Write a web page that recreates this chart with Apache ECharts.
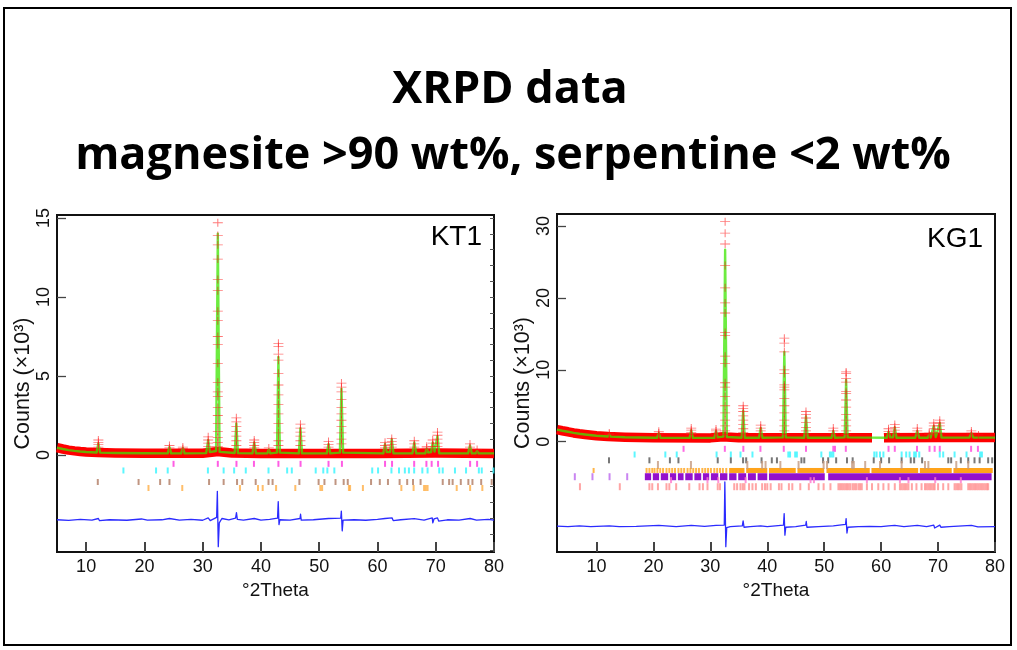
<!DOCTYPE html>
<html><head><meta charset="utf-8">
<script src="https://cdn.jsdelivr.net/npm/echarts@6/dist/echarts.min.js"></script>
<style>html,body{margin:0;padding:0;background:#fff}#c{width:1017px;height:650px}</style>
</head><body><div id="c"></div>
<script>
// ---------- text ----------
const titleLines = ['XRPD data', 'magnesite >90 wt%, serpentine <2 wt%'];
const sampleNames = ['KT1', 'KG1'];
const xAxisName = '°2Theta';
const yAxisName = 'Counts (×10³)';
// ---------- tick labels ----------
const xTickLabels = [10, 20, 30, 40, 50, 60, 70, 80];
const kt1YTickLabels = [0, 5, 10, 15];
const kg1YTickLabels = [0, 10, 20, 30];
const kt1MinorTicks = [-6,-5,-4,-3,-2,-1,0,1,2,3,4,5,6,7,8,9,10,11,12,13,14,15];

// ---------- KT1 ----------
const kt1Calc = [[5,0.46],[6,0.38],[7,0.31],[8,0.26],[9,0.22],[10,0.19],[11.8,0.16],[12.1,0.75],[12.4,0.15],[15,0.13],[20,0.11],[24.0,0.1],[24.3,0.5],[24.6,0.1],[26.3,0.1],[26.6,0.45],[26.9,0.1],[30.6,0.12],[30.95,0.95],[31.25,0.18],[32.3,0.25],[32.6,14.0],[32.9,0.2],[35.5,0.13],[35.78,2.0],[36.05,0.12],[38.55,0.1],[38.85,0.8],[39.15,0.1],[41.1,0.1],[41.35,0.35],[41.6,0.1],[42.75,0.15],[43.0,6.2],[43.25,0.15],[46.5,0.1],[46.78,1.7],[47.05,0.1],[51.3,0.1],[51.6,0.7],[51.9,0.1],[53.55,0.15],[53.82,4.2],[54.1,0.15],[61.0,0.1],[61.3,0.7],[61.6,0.18],[62.15,0.18],[62.45,1.0],[62.75,0.1],[66.0,0.1],[66.32,0.8],[66.65,0.1],[68.2,0.1],[68.45,0.4],[68.7,0.15],[69.2,0.18],[69.48,0.8],[69.8,0.22],[70.0,0.25],[70.3,1.2],[70.6,0.1],[75.55,0.1],[75.88,0.6],[76.2,0.1],[76.85,0.1],[77.1,0.25],[77.35,0.1],[80,0.1]];
const kt1ObsBand = [[5,0.46],[6,0.38],[7,0.31],[8,0.26],[9,0.22],[10,0.19],[12,0.16],[15,0.13],[20,0.11],[30,0.11],[32.3,0.2],[32.9,0.2],[35,0.12],[40,0.1],[50,0.1],[60,0.1],[70,0.12],[80,0.1]];
const kt1ObsPeaks = [
 [12.1,[0.95,0.8,0.65,0.5]],
 [24.3,[0.6,0.45]],
 [26.6,[0.5,0.4]],
 [30.95,[1.15,0.95,0.75,0.55]],
 [32.6,[14.7,13.9,13.3,12.4,11.1,10.4,9.1,8.5,7.5,7.0,5.8,4.6,4.0,3.7,3.0,2.5,2.0,1.5,1.1,0.8,0.55]],
 [35.78,[2.35,2.1,1.8,1.5,1.2,0.9,0.6]],
 [38.85,[0.95,0.8,0.6,0.45]],
 [41.35,[0.45]],
 [43.0,[7.07,6.86,6.39,6.0,5.17,4.43,3.8,3.2,2.6,2.0,1.4,0.9,0.6]],
 [46.78,[1.95,1.7,1.45,1.2,0.9,0.6]],
 [51.6,[0.85,0.65,0.5]],
 [53.82,[4.55,4.3,4.0,3.5,3.0,2.6,2.2,1.8,1.4,1.0,0.7]],
 [61.3,[0.8,0.6,0.45]],
 [62.45,[1.05,0.85,0.65,0.5]],
 [66.32,[0.9,0.7,0.5]],
 [68.45,[0.55,0.45]],
 [69.48,[0.95,0.75,0.55]],
 [70.3,[1.45,1.25,1.0,0.75,0.55]],
 [75.88,[0.7,0.5]],
 [77.1,[0.35]]
];
const kt1Diff = [[5,-4.1],[7,-4.14],[9,-4.08],[11,-4.12],[12.1,-4.02],[12.3,-4.16],[14,-4.1],[17,-4.13],[19.5,-4.05],[20.5,-4.12],[23,-4.1],[24.3,-4.02],[26,-4.12],[28,-4.08],[30,-4.13],[30.95,-3.98],[31.3,-4.15],[32.4,-3.95],[32.52,-2.3],[32.68,-5.8],[32.85,-4.3],[33.3,-4.02],[34.5,-4.1],[35.65,-4.0],[35.8,-3.65],[35.95,-4.08],[37,-4.12],[38.85,-4.02],[40,-4.12],[41.5,-4.08],[42.85,-4.0],[42.97,-2.95],[43.1,-4.4],[43.25,-4.1],[45,-4.12],[46.7,-4.02],[46.8,-3.75],[46.92,-4.12],[49,-4.1],[51.6,-4.02],[53.7,-4.0],[53.8,-3.55],[53.95,-4.8],[54.1,-4.12],[56,-4.1],[58,-4.13],[60,-4.08],[61.3,-4.02],[62.5,-3.98],[62.7,-4.15],[64,-4.1],[66.3,-4.03],[68,-4.12],[69.4,-3.98],[69.5,-4.3],[69.7,-4.05],[70.3,-3.98],[70.5,-4.18],[72,-4.1],[74,-4.12],[75.9,-4.02],[77,-4.12],[79,-4.08],[80,-4.12]];
// reflection markers (2θ positions) per phase
const kt1Magnesite = [25.0,32.6,35.8,38.8,43.0,46.8,51.6,53.9,61.3,62.5,66.3,68.4,69.3,70.4,75.9,77.1];
const kt1Cyan = [16.4,22.0,24.0,30.9,33.6,35.4,37.4,41.3,44.5,45.3,49.4,50.7,51.4,52.6,59.1,60.1,62.4,63.7,64.7,65.4,66.3,67.7,68.6,70.6,71.2,73.3,75.2,77.4,77.9,79.9];
const kt1Brown = [12.0,19.0,22.7,24.3,31.1,33.6,35.9,36.8,39.1,41.3,42.0,46.6,49.9,50.9,52.8,54.2,54.9,58.9,60.4,61.8,63.8,65.1,66.1,67.4,71.2,72.3,72.9,74.3,75.6,76.3,77.8,79.6];
const kt1Orange = [20.7,26.5,36.4,39.5,40.3,42.6,45.9,50.2,50.5,55.1,55.3,57.5,64.1,66.2,68.0,68.3,68.6,73.6,75.9,78.0];

// ---------- KG1 ----------
const kg1Calc = [[3.07,1.67],[4,1.52],[5,1.38],[6,1.22],[7,1.1],[8,1.0],[10,0.83],[12.0,0.72],[12.25,1.0],[12.5,0.71],[15,0.63],[20,0.56],[20.65,0.55],[20.95,1.2],[21.25,0.55],[26.35,0.53],[26.65,1.6],[26.95,0.53],[30.7,0.53],[31.0,1.5],[31.3,0.6],[32.3,0.7],[32.6,26.7],[32.9,0.65],[35.5,0.55],[35.78,4.3],[36.05,0.55],[38.55,0.55],[38.85,1.9],[39.15,0.55],[42.75,0.6],[43.0,12.5],[43.25,0.6],[46.5,0.55],[46.8,3.5],[47.1,0.55],[51.3,0.55],[51.6,1.5],[51.9,0.55],[53.6,0.6],[53.85,8.6],[54.1,0.6],[61.0,0.55],[61.3,1.4],[61.6,0.6],[62.1,0.6],[62.4,2.0],[62.7,0.55],[66.0,0.55],[66.35,1.5],[66.7,0.55],[68.2,0.55],[68.45,1.0],[68.7,0.6],[68.95,0.6],[69.25,2.2],[69.6,0.65],[69.95,0.7],[70.3,2.6],[70.6,0.57],[75.5,0.57],[75.85,1.2],[76.2,0.57],[76.85,0.57],[77.1,0.8],[77.35,0.57],[80,0.57]];
const kg1ObsBandA = [[3.07,1.67],[4,1.52],[5,1.38],[6,1.22],[7,1.1],[8,1.0],[10,0.83],[12,0.72],[15,0.63],[20,0.56],[30,0.53],[32.3,0.7],[32.9,0.65],[35,0.55],[40,0.55],[50,0.56],[58.4,0.56]];
const kg1ObsBandB = [[60.5,0.56],[70,0.58],[80,0.57]];
const kg1ObsPeaks = [
 [12.25,[1.2,1.0]],
 [20.95,[1.45,1.2,0.95]],
 [26.65,[1.9,1.6,1.3,1.0]],
 [31.0,[1.75,1.5,1.2,0.95]],
 [32.6,[30.6,29.0,27.5,24.5,21.4,19.3,17.9,15.2,14.8,11.9,10.9,8.2,7.6,6.3,5.0,4.0,3.0,2.2,1.5,1.0]],
 [35.78,[5.0,4.6,4.2,3.6,3.0,2.4,1.8,1.3,0.95]],
 [38.85,[2.3,1.9,1.5,1.1]],
 [43.0,[14.4,13.7,12.5,10.0,9.5,7.9,7.6,7.2,6.0,5.0,4.0,3.0,2.2,1.5,1.0]],
 [46.8,[4.2,3.8,3.3,2.7,2.0,1.5,1.1]],
 [51.6,[1.9,1.5,1.15]],
 [53.85,[9.7,9.5,8.8,8.3,7.0,6.7,5.8,4.8,3.8,3.0,2.2,1.5,1.0]],
 [61.3,[1.8,1.45,1.1]],
 [62.4,[2.4,2.0,1.6,1.2]],
 [66.35,[1.9,1.5,1.1]],
 [68.45,[1.2,1.0]],
 [69.25,[2.6,2.2,1.8,1.3]],
 [70.3,[3.0,2.6,2.2,1.7,1.2]],
 [75.85,[1.5,1.2,0.95]],
 [77.1,[0.95]]
];
const kg1Diff = [[3.07,-11.75],[5,-11.8],[7,-11.72],[9,-11.82],[12.25,-11.7],[14,-11.8],[17,-11.78],[20.95,-11.65],[21.2,-11.85],[24,-11.8],[26.65,-11.65],[27,-11.85],[29,-11.78],[31,-11.65],[31.3,-11.85],[32.45,-11.6],[32.55,-5.6],[32.72,-14.6],[32.88,-11.95],[33.5,-11.8],[35.62,-11.7],[35.76,-11.0],[35.92,-11.9],[37,-11.8],[38.85,-11.7],[40,-11.82],[42.85,-11.6],[42.97,-10.0],[43.1,-13.0],[43.25,-11.9],[45,-11.8],[46.75,-11.6],[46.85,-11.1],[46.97,-11.9],[49,-11.8],[51.6,-11.7],[53.75,-11.5],[53.85,-10.7],[54.0,-12.7],[54.15,-11.9],[56,-11.8],[58,-11.78],[60,-11.82],[61.3,-11.7],[62.4,-11.65],[62.6,-11.9],[64,-11.8],[66.35,-11.65],[68,-11.82],[69.25,-11.6],[69.4,-12.0],[70.3,-11.6],[70.5,-11.9],[72,-11.8],[75.85,-11.65],[77,-11.85],[80,-11.8]];
const kg1Magnesite = [25.3,32.55,35.8,38.8,42.9,46.8,51.6,51.9,53.8,61.3,62.4,66.3,68.5,69.4,70.3,75.8,77.0];
const kg1Cyan = [16.7,22.1,24.1,31.1,33.6,35.3,37.4,43.7,44.0,44.9,45.2,49.5,51.0,51.3,51.6,58.8,59.2,59.8,60.4,63.6,64.4,65.0,65.8,66.1,66.7,70.3,70.9,72.9,75.0,77.4,77.7];
const kg1Grey = [12.2,19.3,22.9,24.4,31.3,33.6,35.75,36.3,39.0,40.8,41.7,46.0,46.5,49.8,50.7,52.1,54.0,55.0,58.7,60.0,61.4,63.6,65.2,65.8,67.2,71.8,72.3,74.0,75.3,76.4,77.3,78.8,79.5];
const kg1Tan = [20.8,26.6,36.5,39.1,39.7,42.3,45.5,49.9,50.5,54.9,55.2,57.2,59.8,63.6,67.7,68.3,73.2,75.3];
const kg1OrangeTicks = [9.5,18.8,19.3,19.8,20.2,20.7,21.2,21.7,22.3,22.8,23.3,23.8,24.4,24.9,25.4,26.0,26.5,27.0,27.5,28.0,28.6,29.1,29.6,30.1,30.7,31.2,31.7,32.2,32.8];
const kg1OrangeRuns = [[33.3,36.0],[36.3,40.0],[40.3,45.0],[45.3,50.0],[50.4,58.0],[58.3,66.5],[66.8,72.4],[72.7,79.6]];
const kg1PurpleTicks = [6.2,9.3,12.3,15.4];
const kg1PurpleRuns = [[18.5,19.6],[19.9,21.0],[21.3,22.6],[22.9,24.0],[24.3,25.3],[25.6,26.9],[27.2,28.4],[28.7,29.8],[30.1,31.4],[31.7,33.0],[33.3,34.6],[34.9,36.3],[36.6,38.0],[38.3,40.0],[40.3,50.1],[50.7,79.4]];
const kg1Salmon = [7.1,14.1,19.3,19.8,20.8,22.3,22.8,24.0,26.3,28.1,28.7,29.5,31.3,31.7,34.2,34.7,35.3,35.7,36.0,36.8,37.4,38.0,39.1,39.6,40.0,40.6,42.05,42.5,43.8,44.4,45.8,47.3,49.0,49.9,51.1,52.5,52.8,53.1,53.4,53.7,54.0,54.3,54.6,55.0,55.3,55.6,56.0,56.3,56.6,57.5,58.4,59.5,60.4,61.3,62.4,63.3,63.6,63.9,64.2,64.5,64.8,65.4,66.2,67.1,67.7,68.0,68.3,68.6,68.9,69.2,69.4,70.0,70.9,71.8,72.9,73.2,73.5,73.8,74.1,75.3,75.6,75.9,76.2,76.5,76.8,77.1,77.4,77.7,78.0,78.3,78.6,78.8];
const kg1Pink = [23.1,29.5,31.4,36.2,47.6,48.2,57.5,63.3,64.8,69.5,74.0];

// ---------- drawing ----------
const crossPath = 'path://M0,4.5H10V5.5H0Z M4.5,0H5.5V10H4.5Z';
const FONT = '"Liberation Sans", Arial, sans-serif';

function peakPoints(list){ return list.flatMap(([x, hs]) => hs.map(h => [x, h])); }
function lineS(data, xi, yi, color, width, z){
  return {type:'line', xAxisIndex:xi, yAxisIndex:yi, data, showSymbol:false, symbol:'none',
    lineStyle:{color, width, cap:'butt', join:'round'}, z, silent:true, animation:false, clip:true};
}
function crossS(data, xi, yi){
  return {type:'scatter', xAxisIndex:xi, yAxisIndex:yi, data, symbol:crossPath, symbolSize:[10,8],
    itemStyle:{color:'rgba(255,20,20,0.72)'}, z:6, silent:true, animation:false};
}
function tickS(pos, level, xi, yi, color, h, w){
  return {type:'scatter', xAxisIndex:xi, yAxisIndex:yi, data:pos.map(p => [p, level]), symbol:'rect',
    symbolSize:[w || 2, h], itemStyle:{color}, z:3, silent:true, animation:false};
}
function runS(runs, level, xi, yi, color, h){
  return {type:'custom', xAxisIndex:xi, yAxisIndex:yi, data:runs.map(r => [r[0], r[1], level]),
    encode:{x:[0,1], y:2}, silent:true, animation:false, z:3, clip:true,
    renderItem:(params, api) => {
      const a = api.coord([api.value(0), api.value(2)]);
      const b = api.coord([api.value(1), api.value(2)]);
      return {type:'rect', shape:{x:a[0], y:a[1]-h/2, width:b[0]-a[0], height:h}, style:{fill:color}};
    }};
}

function xAxisCfg(gi, min){
  return {gridIndex:gi, type:'value', min, max:80, position:'bottom',
    axisLine:{show:false, onZero:false},
    axisTick:{inside:true, length:10, customValues:xTickLabels, lineStyle:{color:'#444', width:2}},
    axisLabel:{customValues:xTickLabels, fontSize:18, color:'#111', margin:6, fontFamily:FONT},
    splitLine:{show:false},
    name:xAxisName, nameLocation:'middle', nameGap:28,
    nameTextStyle:{fontSize:19, color:'#111', fontFamily:FONT, verticalAlign:'top'}};
}
function yAxisCfg(gi, min, max, ticks, nameGap){
  return {gridIndex:gi, type:'value', min, max, position:'left',
    axisLine:{show:false, onZero:false},
    axisTick:{inside:true, length:9, customValues:ticks, lineStyle:{color:'#444', width:1.3}},
    axisLabel:{customValues:ticks, rotate:90, fontSize:18, color:'#111', margin:4, fontFamily:FONT},
    splitLine:{show:false},
    name:yAxisName, nameLocation:'middle', nameRotate:90, nameGap,
    nameTextStyle:{fontSize:21.5, color:'#111', fontFamily:FONT}};
}

const kt1Lv = {mag:-0.56, cyan:-0.98, brown:-1.71, orange:-2.09};
const kg1Lv = {mag:-0.99, cyan:-1.78, grey:-2.59, tan:-3.24, orange:-4.0, purple:-4.87, pink:-5.35, salmon:-6.26};

const option = {
  animation:false,
  backgroundColor:'#fff',
  grid:[
    {left:57, top:215, width:437, height:337, show:true, borderColor:'#111', borderWidth:2, backgroundColor:'transparent'},
    {left:557, top:214, width:438, height:338, show:true, borderColor:'#111', borderWidth:2, backgroundColor:'transparent'}
  ],
  xAxis:[ xAxisCfg(0, 5), xAxisCfg(1, 3.07) ],
  yAxis:[
    yAxisCfg(0, -6.14, 15.19, kt1YTickLabels, 20),
    {gridIndex:0, type:'value', min:-6.14, max:15.19, position:'right', axisLine:{show:false, onZero:false},
     axisTick:{inside:true, length:4, customValues:kt1MinorTicks, lineStyle:{color:'#555', width:1}},
     axisLabel:{show:false}, splitLine:{show:false}},
    yAxisCfg(1, -15.34, 31.67, kg1YTickLabels, 23)
  ],
  graphic:[
    {type:'rect', shape:{x:4, y:8, width:1007, height:637}, style:{fill:'none', stroke:'#000', lineWidth:2}, z:100, silent:true},
    {type:'text', x:510, y:90, style:{text:titleLines[0], font:'bold 45px "Open Sans"', fill:'#000', align:'center', verticalAlign:'middle', textAlign:'center', textVerticalAlign:'middle'}},
    {type:'text', x:513, y:156, style:{text:titleLines[1], font:'bold 45px "Open Sans"', fill:'#000', align:'center', verticalAlign:'middle', textAlign:'center', textVerticalAlign:'middle'}},
    {type:'text', x:482, y:237, style:{text:sampleNames[0], font:'28px "Liberation Sans"', fill:'#000', align:'right', verticalAlign:'middle', textAlign:'right', textVerticalAlign:'middle'}},
    {type:'text', x:983, y:239, style:{text:sampleNames[1], font:'28px "Liberation Sans"', fill:'#000', align:'right', verticalAlign:'middle', textAlign:'right', textVerticalAlign:'middle'}}
  ],
  series:[
    // KT1
    lineS(kt1ObsBand, 0, 0, '#ff0000', 9.5, 2),
    lineS(kt1Calc, 0, 0, 'rgba(60,230,0,0.75)', 2.4, 5),
    crossS(peakPoints(kt1ObsPeaks), 0, 0),
    tickS(kt1Magnesite, kt1Lv.mag, 0, 0, '#ff33dd', 6),
    tickS(kt1Cyan, kt1Lv.cyan, 0, 0, '#33f5ff', 6),
    tickS(kt1Brown, kt1Lv.brown, 0, 0, '#b07a62', 6),
    tickS(kt1Orange, kt1Lv.orange, 0, 0, '#ffae45', 6),
    lineS(kt1Diff, 0, 0, '#2b2bff', 1.3, 4),
    // KG1
    lineS(kg1ObsBandA, 1, 2, '#ff0000', 9.5, 2),
    lineS(kg1ObsBandB, 1, 2, '#ff0000', 9.5, 2),
    lineS(kg1Calc, 1, 2, 'rgba(60,230,0,0.75)', 2.4, 5),
    crossS(peakPoints(kg1ObsPeaks), 1, 2),
    tickS(kg1Magnesite, kg1Lv.mag, 1, 2, '#ff44dd', 6),
    tickS(kg1Cyan, kg1Lv.cyan, 1, 2, '#33f5ff', 6),
    tickS(kg1Grey, kg1Lv.grey, 1, 2, '#555555', 6),
    tickS(kg1Tan, kg1Lv.tan, 1, 2, '#c49a80', 8),
    tickS(kg1OrangeTicks, kg1Lv.orange, 1, 2, '#ffa31a', 5),
    runS(kg1OrangeRuns, kg1Lv.orange, 1, 2, '#ffa31a', 5),
    tickS(kg1PurpleTicks, kg1Lv.purple, 1, 2, '#bb66ee', 7),
    runS(kg1PurpleRuns, kg1Lv.purple, 1, 2, '#9410cc', 7),
    tickS(kg1Pink, kg1Lv.pink, 1, 2, '#ff77cc', 6),
    tickS(kg1Salmon, kg1Lv.salmon, 1, 2, '#ff8f8f', 7),
    lineS(kg1Diff, 1, 2, '#2b2bff', 1.3, 4)
  ]
};
const chart = echarts.init(document.getElementById('c'), null, {renderer:'canvas'});
chart.setOption(option);
</script></body></html>
